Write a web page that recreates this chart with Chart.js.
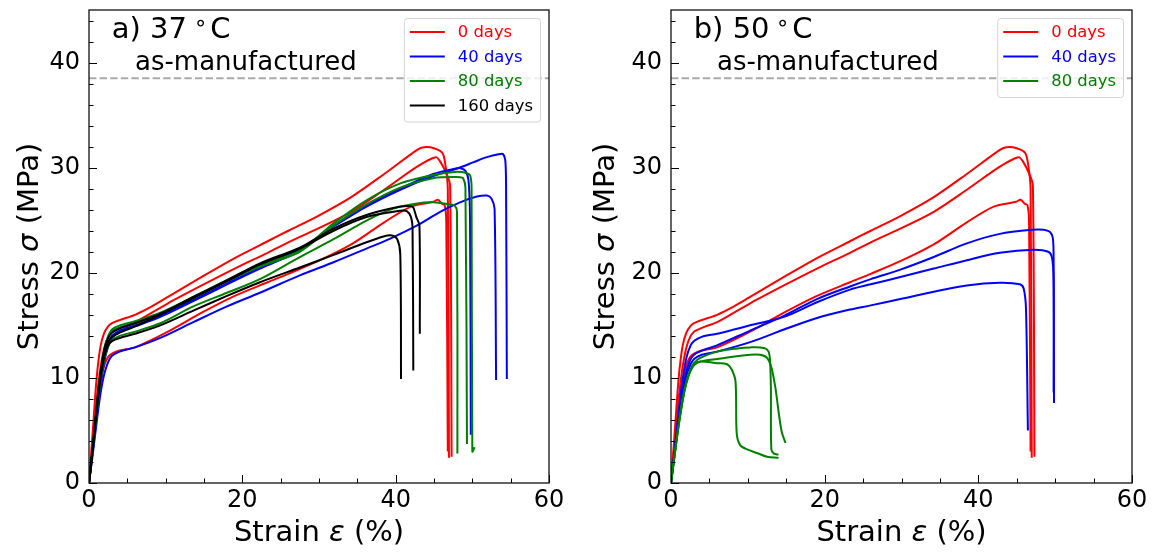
<!DOCTYPE html>
<html>
<head>
<meta charset="utf-8">
<title>Stress-strain curves after ageing</title>
<script src="https://cdn.jsdelivr.net/npm/chart.js@4.4.0/dist/chart.umd.min.js"></script>
<style>
  html, body { margin: 0; padding: 0; background: #fff; }
  #wrap { display: flex; width: 1152px; height: 552px; }
  .panel { position: relative; width: 576px; height: 552px; }
  canvas { display: block; }
</style>
</head>
<body>
<div id="wrap">
  <div class="panel"><canvas id="c37" width="576" height="552"></canvas></div>
  <div class="panel"><canvas id="c50" width="576" height="552"></canvas></div>
</div>
<script>
// ---- axes ----
const xTickVals = [0, 20, 40, 60];
const yTickVals = [0, 10, 20, 30, 40];
const xMinorStep = 5;
const yMinorStep = 2;
const xRange = [0, 60];
const yRange = [0, 45];
const asManufactured = 38.5;           // MPa, unaged reference strength
const groupLabels = ['0 days', '40 days', '80 days', '160 days'];

// ---- 0 days (unaged, same specimens in both panels): [strain %, stress MPa] ----
const d0_a = [[0,0],[0.5,5.0],[1,10.0],[1.5,13.0],[2,14.3],[2.5,14.9],[3,15.2],[4,15.5],[6,16.0],[8.2,16.8],[10.3,17.7],[14.7,19.6],[19,21.4],[23.3,23.0],[26,24.0],[29.85,25.4],[34.2,27.2],[38.5,29.4],[42.8,31.7],[43.7,31.95],[45,31.85],[46.1,31.4],[46.5,30.2],[46.8,28.0],[46.95,2.4]];
const d0_b = [[0,0],[0.5,4.0],[1,8.0],[1.5,11.0],[2,12.9],[2.5,13.9],[3,14.4],[3.5,14.6],[4.5,14.9],[6,15.3],[10.3,17.1],[14.7,18.8],[19,20.4],[23.3,21.9],[26,22.9],[29.85,24.2],[34.2,25.8],[38.5,27.9],[42.8,30.1],[45.2,31.0],[45.8,30.6],[46.7,29.3],[47.1,28.3],[47.3,2.5]];
const d0_c = [[0,0],[0.5,3.5],[1,7.0],[1.5,9.6],[2,11.2],[2.5,12.0],[3,12.3],[4,12.6],[6,12.9],[10.3,14.4],[14.7,16.2],[19,17.8],[23.3,19.1],[26,19.9],[29.85,21.1],[34.2,22.7],[38.5,24.8],[42,26.3],[44.9,26.75],[45.5,26.95],[46.0,26.6],[46.4,26.4],[46.6,24.9],[46.8,3.0]];

// ---- 37 °C ageing ----
const b37_a = [[0,0],[0.5,3.1],[1,6.5],[1.5,9.5],[2,11.8],[2.5,13.2],[3,14.0],[4,14.5],[6,15.0],[9.3,15.9],[13.6,17.4],[18,19.0],[22.3,20.5],[27.5,22.3],[31.9,24.4],[36.2,26.3],[40.6,27.9],[44.9,29.2],[47.95,29.9],[50.1,30.5],[51.9,31.0],[53.6,31.3],[54.0,31.3],[54.3,30.7],[54.4,28.1],[54.5,9.9]];
const b37_b = [[0,0],[0.5,2.8],[1,5.8],[1.5,8.5],[2,10.4],[2.5,11.5],[3,12.1],[4,12.5],[6,12.9],[9.3,13.8],[13.6,15.3],[18,16.8],[22.3,18.1],[27.5,19.75],[31.9,21.0],[36.2,22.3],[39.3,23.25],[42.8,24.5],[45.8,25.8],[48.4,26.7],[50.6,27.25],[51.9,27.35],[52.5,27.05],[52.9,26.1],[53.1,9.8]];
const b37_c = [[0,0],[0.5,3.1],[1,6.4],[1.5,9.4],[2,11.6],[2.5,13.0],[3,13.8],[4,14.4],[6,14.9],[9.3,15.8],[13.6,17.3],[18,18.9],[22.3,20.4],[27.5,22.1],[31.9,24.5],[36.2,26.4],[40.6,28.0],[44.9,29.4],[48.0,29.95],[48.4,29.97],[49.1,29.7],[49.5,28.8],[49.7,25.0],[49.8,4.6]];
const g37_a = [[0,0],[0.5,3.5],[1,7.2],[1.5,10.4],[2,12.7],[2.5,14.0],[3,14.6],[4,15.0],[6,15.4],[9.3,16.2],[13.6,17.7],[18,19.3],[22.3,20.7],[27.5,22.1],[31.9,24.7],[36.2,26.9],[40.6,28.5],[44.9,29.3],[48,29.6],[49.2,29.5],[49.7,29.3],[49.9,28.1],[50.0,3.0],[50.3,3.4]];
const g37_b = [[0,0],[0.5,3.4],[1,7.0],[1.5,10.2],[2,12.5],[2.5,13.8],[3,14.4],[4,14.8],[6,15.2],[9.3,16.1],[13.6,17.6],[18,19.2],[22.3,20.6],[27.5,22.0],[31.9,24.5],[36.2,26.5],[40.6,28.1],[44.9,29.0],[48.4,29.1],[48.8,29.0],[49.1,28.1],[49.3,3.7]];
const g37_c = [[0,0],[0.5,3.2],[1,6.6],[1.5,9.6],[2,11.8],[2.5,13.0],[3,13.6],[4,14.0],[6,14.4],[9.3,15.2],[13.6,16.8],[18,18.1],[22.3,19.4],[27.5,21.5],[31.9,23.2],[36.2,24.97],[39.7,26.1],[42.8,26.6],[44.9,26.7],[47.1,26.5],[47.7,26.4],[48.0,25.8],[48.05,2.8]];
const k37_a = [[0,0],[0.5,3.5],[1,7.3],[1.5,10.5],[2,12.7],[2.5,13.8],[3,14.3],[4,14.7],[6,15.2],[9.3,16.1],[13.6,17.7],[18,19.3],[22.3,20.9],[27.5,22.4],[31.9,24.2],[36.2,25.5],[40.6,26.3],[41.9,26.35],[42.3,26.2],[42.7,25.3],[43.1,24.5],[43.15,14.2]];
const k37_b = [[0,0],[0.5,3.4],[1,7.1],[1.5,10.2],[2,12.3],[2.5,13.4],[3,13.9],[4,14.3],[6,14.9],[9.3,16.0],[13.6,17.6],[18,19.2],[22.3,20.8],[27.5,22.3],[31.9,24.0],[36.2,25.3],[40.6,25.9],[41.5,25.85],[42.0,25.3],[42.2,24.3],[42.3,10.7]];
const k37_c = [[0,0],[0.5,3.3],[1,6.8],[1.5,9.9],[2,12.0],[2.5,13.1],[3,13.5],[4,13.8],[6,14.2],[9.3,15.0],[13.6,16.4],[18,17.8],[22.3,19.1],[27.5,20.5],[31.9,21.7],[36.2,22.9],[38.4,23.45],[39.5,23.55],[40.2,23.2],[40.6,21.8],[40.7,9.9]];

// ---- 50 °C ageing ----
const b50_a = [[0,0],[0.5,3.0],[1,6.2],[1.5,8.8],[2,10.6],[2.5,11.7],[3,12.2],[4,12.6],[6,13.1],[10.3,14.5],[14.7,15.9],[19,17.5],[23.3,18.7],[26,19.4],[29.85,20.3],[34.2,21.5],[38.5,22.8],[42.8,23.7],[47.1,24.1],[48.5,24.1],[49.3,23.9],[49.7,23.3],[49.8,21.0],[49.85,7.6]];
const b50_b = [[0,0],[0.5,3.3],[1,6.8],[1.5,9.8],[2,11.9],[2.5,13.0],[3,13.5],[4,13.9],[6,14.2],[8.2,14.6],[10.3,15.0],[14.7,15.8],[19,17.2],[23.3,18.4],[26,18.9],[29.85,19.6],[34.2,20.4],[38.5,21.2],[42.8,21.9],[47.1,22.2],[49.1,22.0],[49.6,21.4],[49.8,19.2],[49.8,8.6]];
const b50_c = [[0,0],[0.5,3.0],[1,6.0],[1.5,8.5],[2,10.2],[2.5,11.2],[3,11.8],[4,12.2],[6,12.5],[10.3,13.4],[14.7,14.6],[19,15.7],[23.3,16.5],[26,16.9],[29.85,17.5],[34.2,18.2],[38.5,18.8],[42.8,19.05],[45.4,18.9],[45.9,18.5],[46.2,16.6],[46.45,5.0]];
const g50_a = [[0,0],[0.5,2.9],[1,5.6],[1.5,7.9],[2,9.6],[2.5,10.7],[3,11.4],[3.8,11.9],[6,12.5],[8.6,12.8],[10.3,12.9],[12.1,12.85],[12.7,12.5],[12.9,11.55],[13.0,9.0],[13.06,3.2],[13.4,2.8],[14.0,2.7]];
const g50_b = [[0,0],[0.5,2.8],[1,5.5],[1.5,7.8],[2,9.5],[2.5,10.6],[3,11.2],[3.8,11.55],[6,11.8],[10.3,12.2],[11.6,12.2],[12.5,11.9],[13.1,10.9],[13.6,9.0],[14.0,6.8],[14.4,4.9],[14.9,3.8]];
const g50_c = [[0,0],[0.5,2.8],[1,5.5],[1.5,7.8],[2,9.6],[2.5,10.7],[3,11.3],[3.8,11.55],[6,11.4],[7.3,11.3],[7.9,10.8],[8.4,9.65],[8.55,4.75],[9.0,3.6],[9.9,3.2],[11.2,2.85],[12.5,2.5],[14.0,2.4]];

// ---- styling ----
const groupColors = ['#ff0000', '#0000ff', '#008000', '#000000'];
const FONT = '"DejaVu Sans", "Liberation Sans", sans-serif';

function curve(points, color) {
  return {
    data: points.map(([x, y]) => ({ x, y })),
    borderColor: color,
    borderWidth: 2,
    pointRadius: 0,
    fill: false,
    tension: 0.3,
    borderJoinStyle: 'round'
  };
}

function buildDatasets(groups) {
  const sets = [];
  groups.forEach((g, gi) => g.forEach(p => sets.push(curve(p, groupColors[gi]))));
  // later series are drawn on top
  sets.forEach((s, i) => { s.order = -i; });
  sets.push({
    data: [{ x: xRange[0], y: asManufactured }, { x: xRange[1], y: asManufactured }],
    borderColor: '#aaaaaa',
    borderWidth: 2,
    borderDash: [7.4, 3.2],
    pointRadius: 0,
    fill: false,
    tension: 0,
    order: 100
  });
  return sets;
}

// mixed-style text helper: parts = [[text, font]]
function measureParts(ctx, parts) {
  let w = 0;
  parts.forEach(([t, f]) => { ctx.font = f; w += ctx.measureText(t).width; });
  return w;
}
function drawParts(ctx, parts, x, y) {
  parts.forEach(([t, f]) => {
    ctx.font = f;
    ctx.fillText(t, x, y);
    x += ctx.measureText(t).width;
  });
}

const framePlugin = {
  id: 'frame',
  afterDraw(chart, args, opts) {
    const { ctx, chartArea: a, scales: { x, y } } = chart;
    ctx.save();

    // minor and major ticks, pointing inward
    ctx.strokeStyle = '#000';
    ctx.lineWidth = 1;
    ctx.beginPath();
    for (let v = xRange[0]; v <= xRange[1]; v += xMinorStep) {
      const px = Math.round(x.getPixelForValue(v)) + 0.5;
      const len = xTickVals.includes(v) ? 8 : 4.5;
      ctx.moveTo(px, a.bottom); ctx.lineTo(px, a.bottom - len);
    }
    for (let v = yRange[0]; v <= yRange[1]; v += yMinorStep) {
      const py = Math.round(y.getPixelForValue(v)) + 0.5;
      const len = yTickVals.includes(v) ? 8 : 4.5;
      ctx.moveTo(a.left, py); ctx.lineTo(a.left + len, py);
    }
    ctx.stroke();

    // plot frame
    ctx.lineWidth = 1.3;
    ctx.strokeStyle = '#111';
    ctx.strokeRect(a.left, a.top, a.right - a.left, a.bottom - a.top);

    // axis titles
    ctx.fillStyle = '#000';
    ctx.textBaseline = 'alphabetic';
    ctx.textAlign = 'left';
    const big = '29px ' + FONT;
    const bigIt = 'oblique 29px ' + FONT;
    const xt = [['Strain ', big], ['\u03b5', bigIt], [' (%)', big]];
    const xw = measureParts(ctx, xt);
    drawParts(ctx, xt, (a.left + a.right) / 2 - xw / 2, 541);

    const yt = [['Stress ', big], ['\u03c3', bigIt], [' (MPa)', big]];
    const yw = measureParts(ctx, yt);
    ctx.save();
    ctx.translate(38, (a.top + a.bottom) / 2);
    ctx.rotate(-Math.PI / 2);
    drawParts(ctx, yt, -yw / 2, 0);
    ctx.restore();

    // panel title with degree ring
    const tx = a.left + 22.7;
    ctx.font = '29px ' + FONT;
    ctx.fillText(opts.tag, tx, 37.5);
    ctx.textAlign = 'center';
    ctx.font = '22px ' + FONT;
    ctx.fillText('\u2218', tx + 89, 30);
    ctx.textAlign = 'left';
    ctx.font = '29px ' + FONT;
    ctx.fillText('C', tx + 98.5, 37.5);

    ctx.font = '26px ' + FONT;
    ctx.fillText('as-manufactured', a.left + 46, 69.5);

    // legend
    const n = opts.groups;
    ctx.font = '16.4px ' + FONT;
    let tw = 0;
    for (let i = 0; i < n; i++) tw = Math.max(tw, ctx.measureText(groupLabels[i]).width);
    const bw = 6 + 35 + 13 + tw + 7;
    const rowH = 24.5;
    const bh = 14 + (n - 1) * rowH + 16;
    const bx = a.right - 9 - bw;
    const by = a.top + 8;
    ctx.beginPath();
    ctx.roundRect(bx + 0.5, by + 0.5, bw, bh, 3);
    ctx.fillStyle = 'rgba(255,255,255,0.8)';
    ctx.fill();
    ctx.strokeStyle = '#d3d3d3';
    ctx.lineWidth = 1;
    ctx.stroke();
    ctx.textBaseline = 'middle';
    for (let i = 0; i < n; i++) {
      const ry = by + 14 + i * rowH;
      ctx.strokeStyle = groupColors[i];
      ctx.lineWidth = 2.2;
      ctx.beginPath();
      ctx.moveTo(bx + 6, ry); ctx.lineTo(bx + 41, ry);
      ctx.stroke();
      ctx.fillStyle = groupColors[i];
      ctx.fillText(groupLabels[i], bx + 54, ry + 1);
    }
    ctx.restore();
  }
};

function makeChart(id, groups, tag, yWidth, padRight) {
  return new Chart(document.getElementById(id), {
    type: 'line',
    data: { datasets: buildDatasets(groups) },
    plugins: [framePlugin],
    options: {
      responsive: false,
      animation: false,
      events: [],
      layout: { padding: { top: 10, right: padRight, bottom: 0, left: 0 } },
      plugins: {
        legend: { display: false },
        tooltip: { enabled: false },
        frame: { tag: tag, groups: groups.length }
      },
      scales: {
        x: {
          type: 'linear',
          min: xRange[0], max: xRange[1],
          afterBuildTicks: s => { s.ticks = xTickVals.map(v => ({ value: v })); },
          afterFit: s => { s.height = 69; s.paddingLeft = 0; s.paddingRight = 0; s.paddingTop = 0; s.paddingBottom = 0; },
          grid: { display: false, drawTicks: false },
          border: { display: false },
          ticks: { padding: 3, color: '#000', maxRotation: 0, autoSkip: false, font: { family: FONT, size: 24 } }
        },
        y: {
          type: 'linear',
          min: yRange[0], max: yRange[1],
          afterBuildTicks: s => { s.ticks = yTickVals.map(v => ({ value: v })); },
          afterFit: s => { s.width = yWidth; s.paddingLeft = 0; s.paddingRight = 0; s.paddingTop = 0; s.paddingBottom = 0; },
          grid: { display: false, drawTicks: false },
          border: { display: false },
          ticks: { padding: 9, color: '#000', autoSkip: false, font: { family: FONT, size: 24 } }
        }
      }
    }
  });
}

makeChart('c37', [[d0_a, d0_b, d0_c], [b37_a, b37_b, b37_c], [g37_a, g37_b, g37_c], [k37_a, k37_b, k37_c]], 'a) 37', 89, 27);
makeChart('c50', [[d0_a, d0_b, d0_c], [b50_a, b50_b, b50_c], [g50_a, g50_b, g50_c]], 'b) 50', 95, 20);
</script>
</body>
</html>
